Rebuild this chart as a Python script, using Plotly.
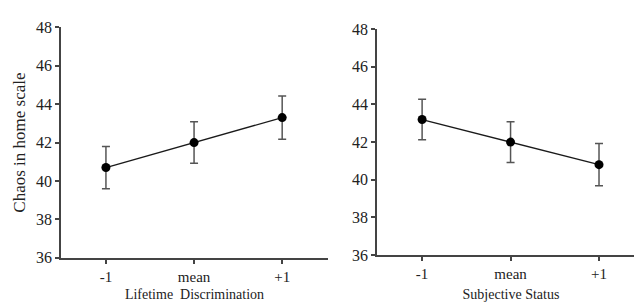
import plotly.graph_objects as go

categories = ["-1", "mean", "+1"]
lifetime_means = [40.7, 42.0, 43.3]
lifetime_err = [1.1, 1.08, 1.12]
status_means = [43.2, 42.0, 40.8]
status_err = [1.08, 1.08, 1.12]
y_ticks = [36, 38, 40, 42, 44, 46, 48]

W, H = 642, 307
fig = go.Figure()

def add_panel(vals, errs, xa, ya):
    fig.add_trace(go.Scatter(
        x=categories, y=vals, mode="lines+markers",
        line=dict(color="#1a1a1a", width=1.3),
        marker=dict(color="black", size=9),
        error_y=dict(type="data", array=errs, visible=True, color="#555555",
                     thickness=1.5, width=4),
        xaxis=xa, yaxis=ya, showlegend=False, hoverinfo="skip"))

add_panel(lifetime_means, lifetime_err, "x", "y")
add_panel(status_means, status_err, "x2", "y2")

font = "Liberation Serif, Times New Roman, serif"
axis_common = dict(showline=True, linecolor="#444444", linewidth=1.5,
                   ticks="outside", ticklen=4, tickcolor="#444444", tickwidth=1.5,
                   showgrid=False, zeroline=False, mirror=False)

def xd(a, b):
    return [a / W, b / W]

def yd(top, bottom):
    return [(H - bottom) / H, (H - top) / H]

fig.update_layout(
    width=W, height=H, margin=dict(l=0, r=0, t=0, b=0),
    paper_bgcolor="white", plot_bgcolor="white",
    font=dict(family=font, color="#222222"),
    xaxis=dict(domain=xd(53, 320), range=[-0.51, 2.52], anchor="y",
               tickfont=dict(size=15),
               title=dict(text="Lifetime  Discrimination", font=dict(size=14), standoff=6),
               **axis_common),
    yaxis=dict(domain=yd(12, 256), range=[36, 48], tickvals=y_ticks, anchor="x",
               tickfont=dict(size=16),
               title=dict(text="Chaos in home scale", font=dict(size=17), standoff=6),
               **axis_common),
    xaxis2=dict(domain=xd(369, 637), range=[-0.51, 2.52], anchor="y2",
                tickfont=dict(size=15),
                title=dict(text="Subjective Status", font=dict(size=14), standoff=8),
                **axis_common),
    yaxis2=dict(domain=yd(14, 253), range=[36, 48], tickvals=y_ticks, anchor="x2",
                tickfont=dict(size=16), **axis_common),
)

fig.write_html("out.html")
